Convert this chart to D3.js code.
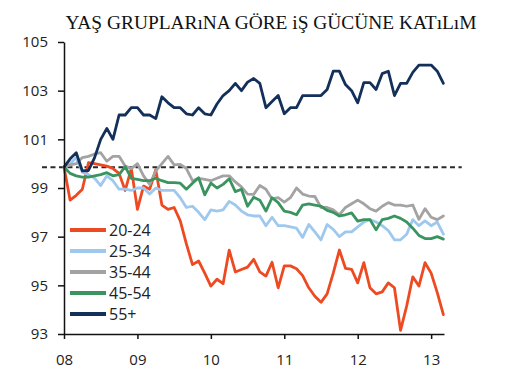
<!DOCTYPE html>
<html>
<head>
<meta charset="utf-8">
<script src="https://cdn.jsdelivr.net/npm/d3@7"></script>
<style>
  body { margin: 0; background: #fff; }
</style>
</head>
<body>
<div id="chart"></div>
<script>
const title = "YAŞ GRUPLARıNA GÖRE iŞ GÜCÜNE KATıLıM";
const yearLabels = ["08", "09", "10", "11", "12", "13"];
const yTicks = [93, 95, 97, 99, 101, 103, 105];
const seriesNames = ["20-24", "25-34", "35-44", "45-54", "55+"];
const seriesColors = ["#ee4a22", "#9fc8ee", "#a3a3a3", "#3a9460", "#12305a"];

// monthly index values, Jan 2008 .. Mar 2013
const age2024 = [99.86, 98.5, 98.7, 98.95, 100.04, 100.0, 99.95, 99.9, 99.8, 99.6,
  98.9, 99.8, 98.12, 99.08, 98.95, 99.75, 98.3, 98.12, 98.2, 97.65,
  96.7, 95.85, 96.0, 95.5, 94.97, 95.25, 95.07, 96.45, 95.55, 95.65,
  95.75, 96.07, 95.55, 95.38, 95.95, 94.9, 95.8, 95.8, 95.68, 95.4,
  94.9, 94.55, 94.3, 94.65, 95.5, 96.45, 95.7, 95.66, 95.1, 95.93,
  94.9, 94.65, 94.73, 95.1, 94.9, 93.15, 94.15, 95.35, 94.97, 95.93,
  95.5, 94.7, 93.8];
const age2534 = [99.86, 100.0, 100.25, 99.65, 99.55, 99.4, 99.1, 99.5, 99.3, 98.95,
  98.95, 98.9, 99.0, 99.0, 98.75, 99.0, 98.9, 98.9, 98.9, 98.6,
  98.2, 98.25, 98.0, 97.7, 98.1, 98.05, 98.1, 98.45, 98.3, 98.05,
  97.9, 97.85, 97.85, 97.45, 97.8, 97.45, 97.45, 97.4, 97.35, 96.97,
  97.5, 97.2, 96.87, 97.5, 97.3, 97.0, 97.2, 97.2, 97.4, 97.6,
  97.7, 97.6, 97.45, 97.25, 96.87, 96.87, 97.1, 97.7, 97.45, 97.65,
  97.45, 97.6, 97.1];
const age3544 = [99.86, 99.95, 100.0, 100.25, 100.3, 100.4, 100.45, 100.1, 100.3, 100.3,
  99.9, 99.8, 100.0, 99.5, 99.15, 99.7, 100.0, 100.3, 99.95, 99.97,
  99.8, 99.3, 99.4, 99.35, 99.3, 99.4, 99.5, 99.5, 99.25, 99.05,
  98.75, 98.74, 99.1, 98.95, 98.55, 98.6, 98.42, 98.6, 99.0, 98.75,
  98.67, 98.65, 98.2, 98.2, 98.1, 97.9, 98.2, 98.35, 98.5, 98.35,
  98.15, 98.05, 98.25, 98.4, 98.3, 98.3, 98.25, 98.3, 97.71, 98.15,
  97.8, 97.7, 97.85];
const age4554 = [99.86, 99.6, 99.5, 99.45, 99.45, 99.5, 99.55, 99.63, 99.5, 99.55,
  99.88, 99.4, 99.35, 99.3, 99.3, 99.4, 99.3, 99.22, 99.22, 99.2,
  98.95, 99.2, 99.42, 98.72, 99.2, 99.0, 99.15, 99.38, 98.85, 98.95,
  98.25, 98.62, 98.5, 98.05, 98.6, 98.4, 98.05, 98.0, 97.9, 98.3,
  98.35, 98.3, 98.25, 98.08, 98.0, 97.85, 97.9, 97.98, 97.64, 97.7,
  97.7, 97.28, 97.7, 97.75, 97.85, 97.75, 97.6, 97.35, 97.05, 96.92,
  96.92, 97.0, 96.9];
const age55 = [99.86, 100.2, 100.45, 99.7, 99.72, 100.25, 101.0, 101.45, 101.0, 102.0,
  102.0, 102.3, 102.3, 102.0, 102.0, 101.85, 102.75, 102.5, 102.3, 102.3,
  102.05, 102.0, 102.3, 102.05, 102.0, 102.45, 102.8, 103.0, 103.3, 103.0,
  103.35, 103.5, 103.3, 102.3, 102.55, 102.8, 102.05, 102.3, 102.3, 102.8,
  102.8, 102.8, 102.8, 103.05, 103.8, 103.8, 103.25, 103.0, 102.5, 103.33,
  103.33, 103.05, 103.7, 103.8, 102.8, 103.3, 103.3, 103.75, 104.05, 104.05,
  104.05, 103.8, 103.3];
const baseline = 99.85;

const seriesValues = [age2024, age2534, age3544, age4554, age55];

const width = 507, height = 389;
const margin = { top: 42, right: 63, bottom: 55, left: 64 };

const svg = d3.select("#chart").append("svg")
  .attr("width", width)
  .attr("height", height)
  .style("font-family", "'Open Sans', sans-serif");

const x = d3.scaleLinear()
  .domain([0, 62.1])
  .range([margin.left, width - margin.right]);

const y = d3.scaleLinear()
  .domain([93, 105])
  .range([height - margin.bottom, margin.top]);

svg.append("text")
  .attr("x", 271)
  .attr("y", 29)
  .attr("text-anchor", "middle")
  .attr("font-family", "'Liberation Serif', 'DejaVu Serif', serif")
  .attr("font-size", 19.4)
  .attr("fill", "#111")
  .text(title);

// dashed reference line, runs past both ends of the axis
svg.append("line")
  .attr("x1", x(-3.6))
  .attr("x2", x(65))
  .attr("y1", y(baseline))
  .attr("y2", y(baseline))
  .attr("stroke", "#2a2a2a")
  .attr("stroke-width", 2)
  .attr("stroke-dasharray", "5,3.5");

const line = d3.line()
  .x((d, i) => x(i))
  .y(d => y(d));

seriesValues.forEach((vals, k) => {
  svg.append("path")
    .datum(vals)
    .attr("fill", "none")
    .attr("stroke", seriesColors[k])
    .attr("stroke-width", 2.8)
    .attr("stroke-linejoin", "round")
    .attr("stroke-linecap", "round")
    .attr("d", line);
});

const xAxis = g => g
  .attr("transform", `translate(0,${y(93)})`)
  .call(d3.axisBottom(x)
    .tickValues(yearLabels.map((d, i) => i * 12))
    .tickFormat((d, i) => yearLabels[i])
    .tickSizeInner(5)
    .tickSizeOuter(0)
    .tickPadding(15))
  .call(g => g.selectAll("text").attr("font-size", 15).attr("fill", "#222"))
  .call(g => g.selectAll("line, path").attr("stroke", "#111").attr("stroke-width", 1.5));

const yAxis = g => g
  .attr("transform", `translate(${margin.left},0)`)
  .call(d3.axisLeft(y)
    .tickValues(yTicks)
    .tickSizeInner(6)
    .tickSizeOuter(0)
    .tickPadding(10))
  .call(g => g.selectAll("text").attr("font-size", 15).attr("fill", "#222"))
  .call(g => g.selectAll("line, path").attr("stroke", "#111").attr("stroke-width", 1.5));

svg.append("g").call(xAxis).attr("font-family", null);
svg.append("g").call(yAxis).attr("font-family", null);

const legend = svg.append("g")
  .attr("transform", "translate(70,230)");

seriesNames.forEach((name, k) => {
  const row = legend.append("g").attr("transform", `translate(0,${k * 21})`);
  row.append("line")
    .attr("x1", 0).attr("x2", 36)
    .attr("stroke", seriesColors[k])
    .attr("stroke-width", 4);
  row.append("text")
    .attr("x", 39)
    .attr("dy", "0.36em")
    .attr("font-size", 16)
    .attr("fill", "#222")
    .text(name);
});
</script>
</body>
</html>
